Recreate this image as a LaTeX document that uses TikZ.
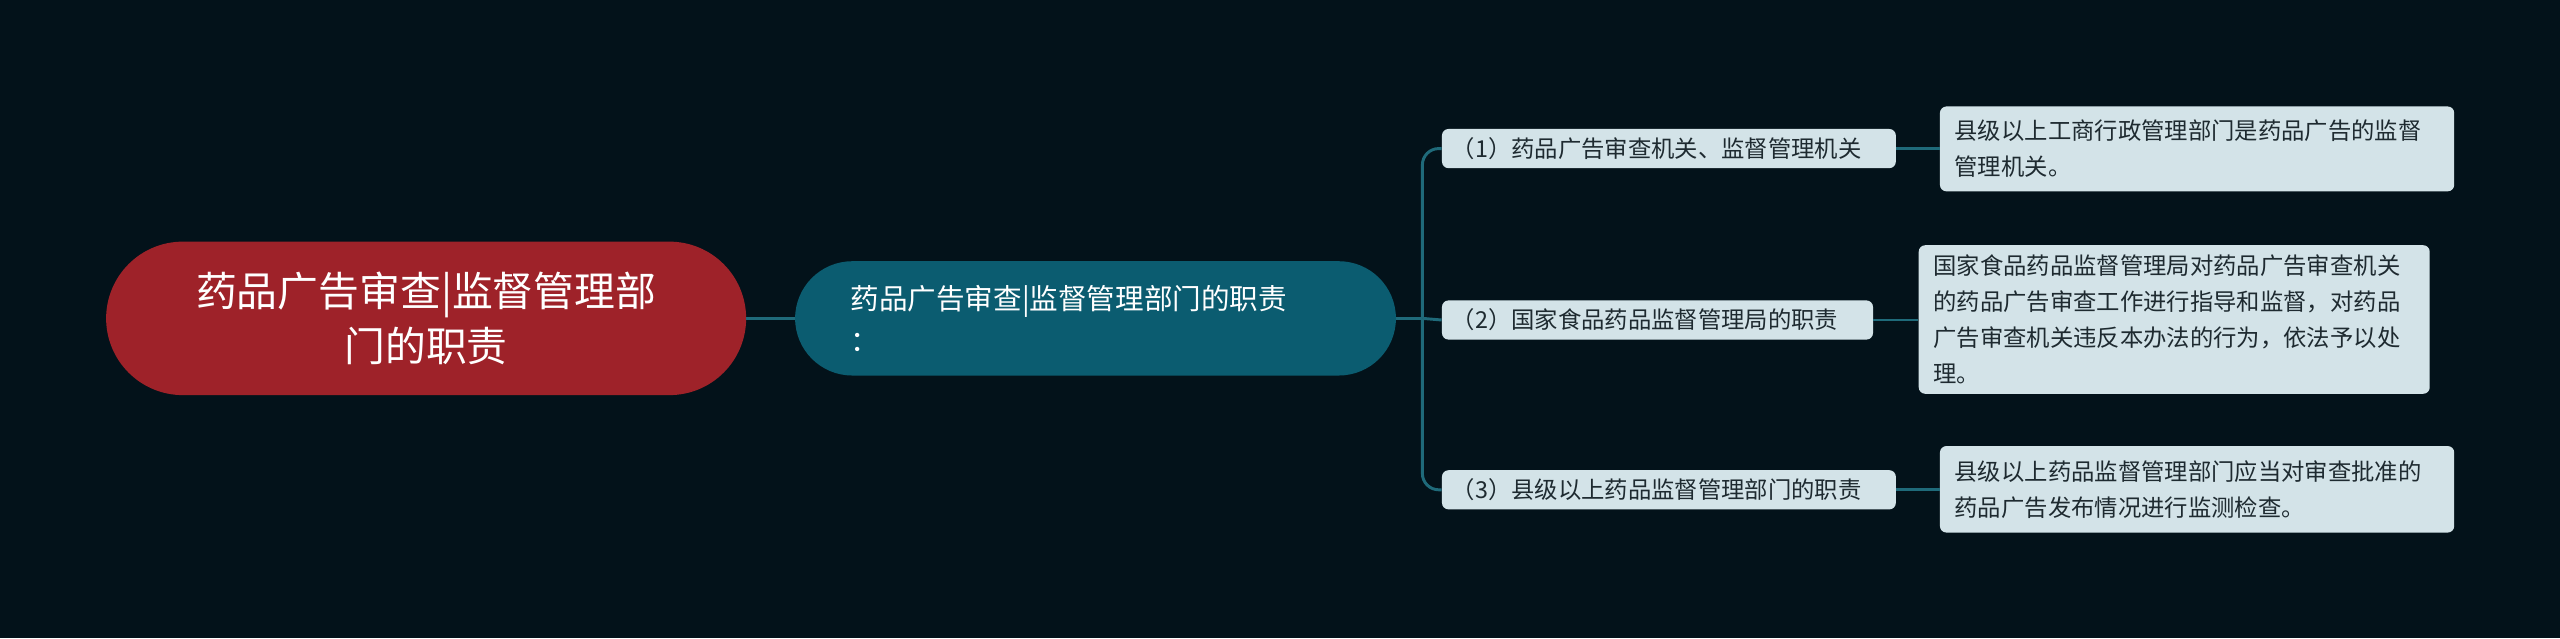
\documentclass[tikz,border=0pt]{standalone}
\usepackage{fontspec}
\setmainfont{Noto Sans CJK SC}
\definecolor{bg}{HTML}{03121A}
\definecolor{rootc}{HTML}{9E2229}
\definecolor{secc}{HTML}{0B5C70}
\definecolor{leafc}{HTML}{D3E3E8}
\definecolor{linec}{HTML}{1F6A7A}
\definecolor{txt}{HTML}{1E2A30}
\begin{document}
\begin{tikzpicture}[x=1pt,y=-1pt,
  conn/.style={draw=linec,line width=1.8pt},
  leaf/.style={fill=leafc,rounded corners=4pt,text=txt,font=\fontsize{14.3}{18}\selectfont,anchor=west,inner sep=0pt,align=left},
  detail/.style={fill=leafc,rounded corners=4pt,text=txt,font=\fontsize{14.3}{22}\selectfont,anchor=north west,inner xsep=9pt,inner ysep=5pt,align=left}]
\fill[bg] (0,0) rectangle (1568,391);
\useasboundingbox (0,0) rectangle (1568,391);
\node[fill=rootc,rounded corners=47pt,minimum width=392pt,minimum height=94pt,text=white,font=\fontsize{25}{34}\selectfont,align=center] (root) at (261,195) {药品广告审查|监督管理部\\门的职责};
\node[fill=secc,rounded corners=35pt,minimum width=368pt,minimum height=70pt,text=white,font=\fontsize{17.5}{26}\selectfont,align=left,text width=300pt] (sec) at (671,195) {药品广告审查|监督管理部门的职责\\：};
\node[leaf,minimum width=278pt,minimum height=24pt,text width=274pt] (l1) at (883,91) {\hspace*{4pt}（1）药品广告审查机关、监督管理机关};
\node[leaf,minimum width=264pt,minimum height=24pt,text width=260pt] (l2) at (883,196) {\hspace*{4pt}（2）国家食品药品监督管理局的职责};
\node[leaf,minimum width=278pt,minimum height=24pt,text width=274pt] (l3) at (883,300) {\hspace*{4pt}（3）县级以上药品监督管理部门的职责};
\node[detail,minimum width=315pt,minimum height=52pt,text width=297pt] (d1) at (1188,65) {县级以上工商行政管理部门是药品广告的监督\\管理机关。};
\node[detail,minimum width=313pt,minimum height=91pt,text width=295pt] (d2) at (1175,150) {国家食品药品监督管理局对药品广告审查机关\\的药品广告审查工作进行指导和监督，对药品\\广告审查机关违反本办法的行为，依法予以处\\理。};
\node[detail,minimum width=315pt,minimum height=53pt,text width=297pt] (d3) at (1188,273) {县级以上药品监督管理部门应当对审查批准的\\药品广告发布情况进行监测检查。};
\draw[conn] (root.east) -- (sec.west);
\coordinate (fork) at ([xshift=16pt]sec.east);
\draw[conn] (sec.east) -- (fork);
\draw[conn,rounded corners=10pt] (fork) |- (l1.west);
\draw[conn,rounded corners=10pt] (fork) |- (l3.west);
\draw[conn] (fork) -- (l2.west);
\draw[conn] (l1.east) -- (d1.west |- l1.east);
\draw[conn] (l2.east) -- (d2.west |- l2.east);
\draw[conn] (l3.east) -- (d3.west |- l3.east);
\end{tikzpicture}
\end{document}
